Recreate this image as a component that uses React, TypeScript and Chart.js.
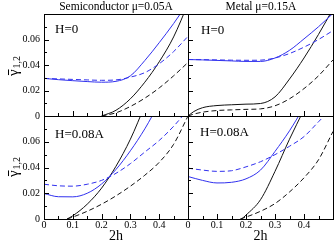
import React, { useEffect, useRef } from 'react';
import { Chart, registerables } from 'chart.js';

Chart.register(...registerables);

const WIDTH = 334;
const HEIGHT = 242;
const SERIF = '"Liberation Serif", "Times New Roman", serif';
const BLUE = '#3030ee';
const BLACK = '#111111';

// ---------- axes / labels ----------
const xGrid = [0, 0.05, 0.1, 0.15, 0.2, 0.25, 0.3, 0.35, 0.4, 0.45, 0.5];
const xTo04 = [0, 0.05, 0.1, 0.15, 0.2, 0.25, 0.3, 0.35, 0.4];
const xTickValues = [0, 0.1, 0.2, 0.3, 0.4];
const xTickLabels = ['0', '0.1', '0.2', '0.3', '0.4'];
const yTickValues = [0, 0.02, 0.04, 0.06];
const yTickLabels = ['0', '0.02', '0.04', '0.06'];
const panelTitles = ['Semiconductor μ=0.05A', 'Metal μ=0.15A'];
const fieldLabels = ['H=0', 'H=0.08A'];
const xAxisTitle = '2h';

// ---------- Semiconductor, H=0 ----------
const semiH0BlueSolid = [0.0295, 0.0285, 0.0277, 0.027, 0.0265, 0.0272, 0.0315, 0.0435, 0.0575, 0.0725, 0.089];
const semiH0BlueDashed = [0.0295, 0.0291, 0.0287, 0.0283, 0.028, 0.0283, 0.0305, 0.034, 0.041, 0.0505, 0.0625];
const semiH0BlackX = [0.2, 0.25, 0.3, 0.35, 0.4, 0.45, 0.5];
const semiH0BlackSolid = [0, 0.0045, 0.0135, 0.0265, 0.0425, 0.062, 0.088];
const semiH0BlackDashed = [0, 0.0025, 0.0075, 0.014, 0.022, 0.0315, 0.042];

// ---------- Metal, H=0 ----------
const metalH0BlueSolid = [0.0443, 0.044, 0.0436, 0.0432, 0.0428, 0.0428, 0.0455, 0.0515, 0.0605, 0.07, 0.0805];
const metalH0BlueDashed = [0.0443, 0.0442, 0.044, 0.0438, 0.0437, 0.0438, 0.0455, 0.049, 0.054, 0.06, 0.067];
const metalH0BlackX = [0, 0.02, 0.05, 0.1, 0.15, 0.2, 0.25, 0.3, 0.35, 0.4, 0.45, 0.5];
const metalH0BlackSolid = [0, 0.0035, 0.0065, 0.0082, 0.0088, 0.0093, 0.0098, 0.015, 0.029, 0.0455, 0.064, 0.084];
const metalH0BlackDashed = [0, 0.0015, 0.003, 0.0043, 0.0048, 0.0052, 0.0056, 0.008, 0.0135, 0.0215, 0.0315, 0.044];

// ---------- Semiconductor, H=0.08A ----------
const semiH08BlueSolid = [0.0198, 0.0173, 0.0172, 0.02, 0.0272, 0.0385, 0.053, 0.07, 0.09];
const semiH08BlueDashed = [0.027, 0.0258, 0.0255, 0.027, 0.03, 0.0355, 0.043, 0.052, 0.061, 0.072, 0.085];
const semiH08BlackSolidX = [0.08, 0.1, 0.15, 0.2, 0.25, 0.3, 0.35];
const semiH08BlackSolid = [0, 0.0025, 0.0115, 0.024, 0.041, 0.062, 0.088];
const semiH08BlackDashedX = [0.08, 0.1, 0.15, 0.2, 0.25, 0.3, 0.35, 0.4, 0.45, 0.5];
const semiH08BlackDashed = [0, 0.0015, 0.006, 0.0115, 0.018, 0.0255, 0.034, 0.044, 0.058, 0.08];

// ---------- Metal, H=0.08A ----------
const metalH08BlueSolid = [0.033, 0.03, 0.028, 0.0285, 0.0312, 0.038, 0.0525, 0.0685, 0.087];
const metalH08BlueDashed = [0.0395, 0.038, 0.037, 0.0375, 0.0405, 0.0445, 0.05, 0.0565, 0.064, 0.0755, 0.087];
const metalH08BlackSolidX = [0.185, 0.2, 0.25, 0.3, 0.35, 0.4];
const metalH08BlackSolid = [0, 0.003, 0.015, 0.037, 0.062, 0.085];
const metalH08BlackDashedX = [0.18, 0.2, 0.25, 0.3, 0.35, 0.4, 0.45, 0.5];
const metalH08BlackDashed = [0, 0.0015, 0.006, 0.012, 0.021, 0.032, 0.046, 0.068];

const DASH = [5, 3];

const panels = [
  {
    area: { left: 44, top: 14, right: 188, bottom: 116 },
    yLabels: true, xLabels: false, xTitle: false,
    title: panelTitles[0], titleX: 116,
    field: fieldLabels[0], fieldX: 55, fieldY: 33,
    gammaY: 66,
    series: [
      { x: xGrid, y: semiH0BlueSolid, color: BLUE, dash: [] },
      { x: xGrid, y: semiH0BlueDashed, color: BLUE, dash: DASH },
      { x: semiH0BlackX, y: semiH0BlackSolid, color: BLACK, dash: [] },
      { x: semiH0BlackX, y: semiH0BlackDashed, color: BLACK, dash: DASH },
    ],
  },
  {
    area: { left: 188, top: 14, right: 333, bottom: 116 },
    yLabels: false, xLabels: false, xTitle: false,
    title: panelTitles[1], titleX: 261,
    field: fieldLabels[0], fieldX: 201, fieldY: 34,
    gammaY: 0,
    series: [
      { x: xGrid, y: metalH0BlueSolid, color: BLUE, dash: [] },
      { x: xGrid, y: metalH0BlueDashed, color: BLUE, dash: DASH },
      { x: metalH0BlackX, y: metalH0BlackSolid, color: BLACK, dash: [] },
      { x: metalH0BlackX, y: metalH0BlackDashed, color: BLACK, dash: DASH },
    ],
  },
  {
    area: { left: 44, top: 116, right: 188, bottom: 219 },
    yLabels: true, xLabels: true, xTitle: true,
    title: '', titleX: 0,
    field: fieldLabels[1], fieldX: 55, fieldY: 138,
    gammaY: 167,
    series: [
      { x: xTo04, y: semiH08BlueSolid, color: BLUE, dash: [] },
      { x: xGrid, y: semiH08BlueDashed, color: BLUE, dash: DASH },
      { x: semiH08BlackSolidX, y: semiH08BlackSolid, color: BLACK, dash: [] },
      { x: semiH08BlackDashedX, y: semiH08BlackDashed, color: BLACK, dash: DASH },
    ],
  },
  {
    area: { left: 188, top: 116, right: 333, bottom: 219 },
    yLabels: false, xLabels: true, xTitle: true,
    title: '', titleX: 0,
    field: fieldLabels[1], fieldX: 200, fieldY: 136,
    gammaY: 0,
    series: [
      { x: xTo04, y: metalH08BlueSolid, color: BLUE, dash: [] },
      { x: xGrid, y: metalH08BlueDashed, color: BLUE, dash: DASH },
      { x: metalH08BlackSolidX, y: metalH08BlackSolid, color: BLACK, dash: [] },
      { x: metalH08BlackDashedX, y: metalH08BlackDashed, color: BLACK, dash: DASH },
    ],
  },
];

function labelFor(v: number, values: number[], labels: string[]) {
  for (let i = 0; i < values.length; i++) {
    if (Math.abs(v - values[i]) < 1e-9) return labels[i];
  }
  return '';
}

function drawGamma(ctx: CanvasRenderingContext2D, cx: number, cy: number) {
  ctx.save();
  ctx.translate(cx, cy);
  ctx.rotate(-Math.PI / 2);
  ctx.fillStyle = '#000';
  ctx.textAlign = 'left';
  ctx.textBaseline = 'alphabetic';
  ctx.font = `15px ${SERIF}`;
  const gw = ctx.measureText('γ').width;
  ctx.font = `10px ${SERIF}`;
  const sw = ctx.measureText('1,2').width;
  const total = gw + 1 + sw;
  const x0 = -total / 2;
  ctx.font = `15px ${SERIF}`;
  ctx.fillText('γ', x0, 0);
  ctx.fillRect(x0 + 1, -10, gw - 1, 1);
  ctx.font = `10px ${SERIF}`;
  ctx.fillText('1,2', x0 + gw + 1, 2);
  ctx.restore();
}

function decorPlugin(p: any) {
  return {
    id: 'decor',
    afterDraw(chart: any) {
      const { ctx, chartArea: a, scales } = chart;
      const xs = scales.x;
      const ys = scales.y;
      const L = Math.round(a.left);
      const R = Math.round(a.right);
      const T = Math.round(a.top);
      const B = Math.round(a.bottom);
      ctx.save();
      ctx.strokeStyle = '#000';
      ctx.lineWidth = 1;
      ctx.setLineDash([]);
      ctx.beginPath();
      for (const t of ys.ticks) {
        const py = Math.round(ys.getPixelForValue(t.value)) + 0.5;
        const major = Math.round(t.value * 100) % 2 === 0;
        ctx.moveTo(L, py);
        ctx.lineTo(L + (major ? 5 : 3), py);
      }
      for (const t of xs.ticks) {
        const px = Math.round(xs.getPixelForValue(t.value)) + 0.5;
        const major = Math.round(t.value * 20) % 2 === 0;
        ctx.moveTo(px, B);
        ctx.lineTo(px, B - (major ? 5 : 3));
      }
      ctx.stroke();
      ctx.strokeRect(L + 0.5, T + 0.5, R - L, B - T);

      ctx.fillStyle = '#000';
      ctx.textBaseline = 'alphabetic';
      if (p.title) {
        ctx.font = `11.5px ${SERIF}`;
        ctx.textAlign = 'center';
        ctx.fillText(p.title, p.titleX, 10);
      }
      ctx.font = `13px ${SERIF}`;
      ctx.textAlign = 'left';
      ctx.fillText(p.field, p.fieldX, p.fieldY);
      if (p.xTitle) {
        ctx.font = `14px ${SERIF}`;
        ctx.textAlign = 'center';
        ctx.fillText(xAxisTitle, (a.left + a.right) / 2, 240);
      }
      ctx.restore();
      if (p.gammaY) drawGamma(ctx, 18, p.gammaY);
    },
  };
}

function buildConfig(p: any) {
  const a = p.area;
  const yw = p.yLabels ? a.left : 0;
  const xh = p.xLabels ? 18 : 0;
  return {
    type: 'line',
    data: {
      datasets: p.series.map((s: any) => ({
        data: s.x.map((x: number, i: number) => ({ x, y: s.y[i] })),
        borderColor: s.color,
        borderWidth: 1,
        borderDash: s.dash,
        pointRadius: 0,
        pointHoverRadius: 0,
        fill: false,
        cubicInterpolationMode: 'monotone',
      })),
    },
    options: {
      animation: false,
      responsive: false,
      devicePixelRatio: 1,
      events: [],
      layout: {
        padding: { left: a.left - yw, top: a.top, right: WIDTH - a.right, bottom: HEIGHT - a.bottom - xh },
      },
      plugins: { legend: { display: false }, tooltip: { enabled: false }, title: { display: false } },
      scales: {
        x: {
          type: 'linear',
          position: 'bottom',
          min: 0,
          max: 0.5,
          afterFit: (s: any) => { s.height = xh; },
          grid: { display: false, drawTicks: false },
          border: { display: false },
          ticks: {
            display: p.xLabels,
            stepSize: 0.05,
            autoSkip: false,
            maxTicksLimit: 100,
            maxRotation: 0,
            minRotation: 0,
            padding: 0,
            color: '#000',
            font: { family: SERIF, size: 10 },
            callback: (v: number) => labelFor(v, xTickValues, xTickLabels),
          },
        },
        y: {
          type: 'linear',
          position: 'left',
          min: 0,
          max: 0.08,
          afterFit: (s: any) => { s.width = yw; },
          grid: { display: false, drawTicks: false },
          border: { display: false },
          ticks: {
            display: p.yLabels,
            stepSize: 0.01,
            autoSkip: false,
            maxTicksLimit: 100,
            padding: 4,
            color: '#000',
            font: { family: SERIF, size: 10 },
            callback: (v: number) => labelFor(v, yTickValues, yTickLabels),
          },
        },
      },
    },
    plugins: [decorPlugin(p)],
  };
}

export default function App() {
  const r0 = useRef<HTMLCanvasElement | null>(null);
  const r1 = useRef<HTMLCanvasElement | null>(null);
  const r2 = useRef<HTMLCanvasElement | null>(null);
  const r3 = useRef<HTMLCanvasElement | null>(null);
  const refs = [r0, r1, r2, r3];

  useEffect(() => {
    const charts = panels.map((p, i) => new Chart(refs[i].current as HTMLCanvasElement, buildConfig(p) as any));
    return () => charts.forEach((c) => c.destroy());
  }, []);

  return (
    <div style={{ position: 'fixed', left: 0, top: 0, width: WIDTH, height: HEIGHT, background: '#fff', overflow: 'hidden' }}>
      {panels.map((p, i) => (
        <canvas
          key={i}
          ref={refs[i]}
          width={WIDTH}
          height={HEIGHT}
          style={{ position: 'absolute', left: 0, top: 0, width: WIDTH, height: HEIGHT }}
        />
      ))}
    </div>
  );
}
